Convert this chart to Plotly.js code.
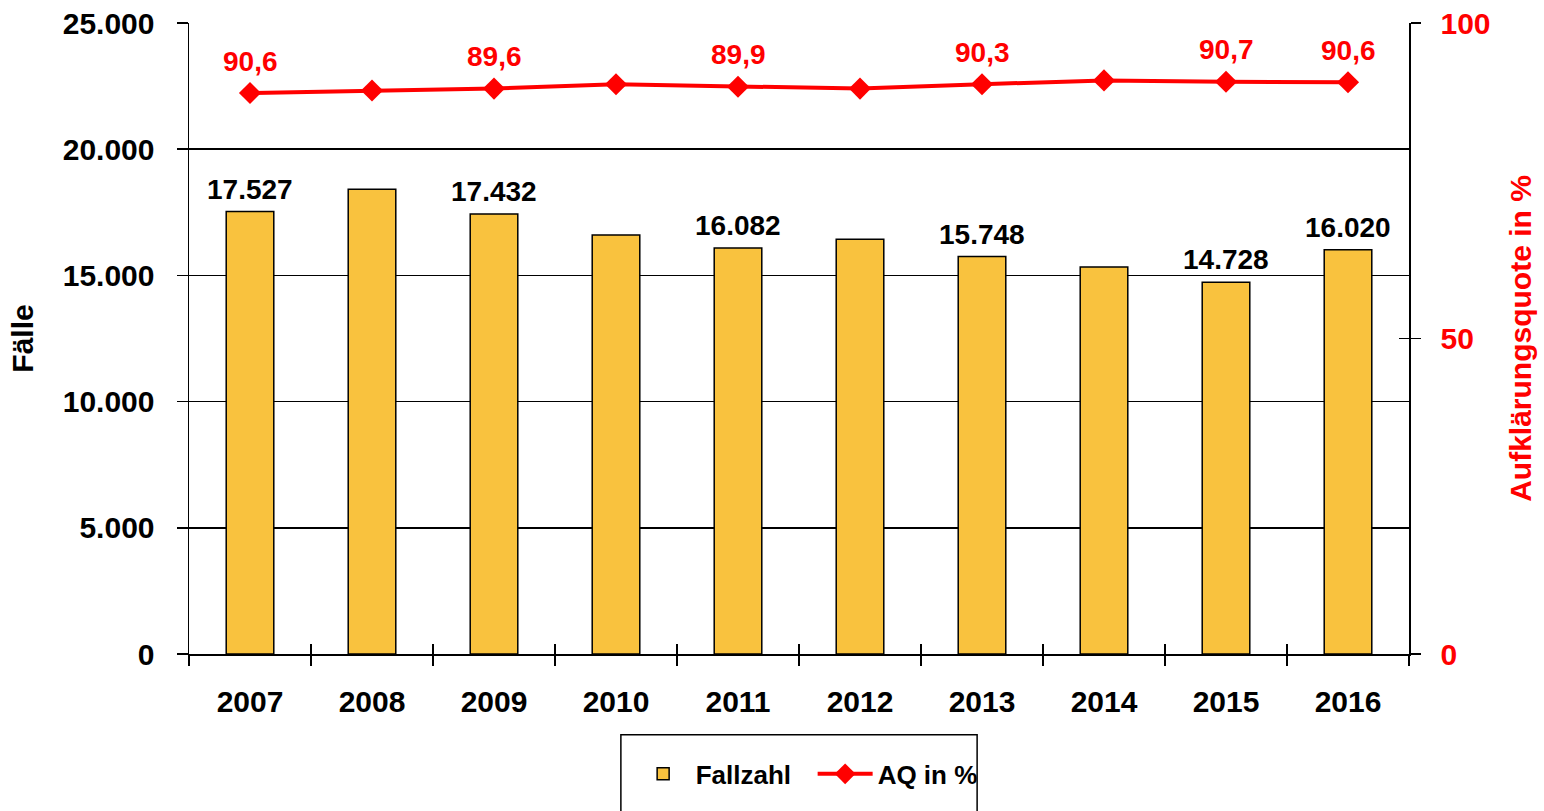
<!DOCTYPE html>
<html>
<head>
<meta charset="utf-8">
<script src="https://cdn.plot.ly/plotly-3.0.1.min.js"></script>
<style>
  body { margin: 0; background: #fff; }
  #chart { width: 1544px; height: 811px; }
</style>
</head>
<body>
<div id="chart"></div>
<script>
// years on the x axis
const years = ['2007', '2008', '2009', '2010', '2011', '2012', '2013', '2014', '2015', '2016'];
// number of cases (bars, left axis)
const fallzahl = [17527, 18410, 17432, 16600, 16082, 16430, 15748, 15330, 14728, 16020];
// labels printed above the bars (only some years are labelled)
const fallLabels = ['17.527', '', '17.432', '', '16.082', '', '15.748', '', '14.728', '16.020'];
// clearance rate in % (line, right axis)
const aq = [88.9, 89.3, 89.6, 90.3, 89.9, 89.6, 90.3, 90.9, 90.7, 90.6];
// labels printed above the line markers
const aqLabels = ['90,6', '', '89,6', '', '89,9', '', '90,3', '', '90,7', '90,6'];


//---------------------------------------------------------------------------------------------------------------//


const fontFamily = 'Liberation Sans, Arial, sans-serif';
const red = '#FF0000';

// bars for the case numbers
const barTrace = {
  type: 'bar',
  name: 'Fallzahl',
  x: years,
  y: fallzahl,
  width: 0.39,
  marker: { color: '#F9C23E', line: { color: '#000', width: 1.5 } },
  hoverinfo: 'x+y'
};

// line for the clearance rate
const lineTrace = {
  type: 'scatter',
  mode: 'lines+markers',
  name: 'AQ in %',
  x: years,
  y: aq,
  yaxis: 'y2',
  line: { color: red, width: 4 },
  marker: { symbol: 'diamond', size: 17, color: red },
  cliponaxis: false
};

// invisible helpers so the ticks cross the axis lines
const xTickHelper = {
  type: 'scatter', mode: 'none', x: years, y: fallzahl,
  xaxis: 'x2', yaxis: 'y', showlegend: false, hoverinfo: 'skip'
};
const yTickHelper = {
  type: 'scatter', mode: 'none', x: years, y: aq,
  xaxis: 'x', yaxis: 'y3', showlegend: false, hoverinfo: 'skip'
};


//---------------------------------------------------------------------------------------------------------------//


// value labels above the bars (black) and above the line points (red)
const annotations = [];

years.forEach((year, i) => {
  if (fallLabels[i] !== '') {
    annotations.push({
      x: i,
      y: fallzahl[i],
      xref: 'x',
      yref: 'y',
      yanchor: 'bottom',
      yshift: 5,
      text: fallLabels[i],
      showarrow: false,
      font: { family: fontFamily, size: 28, color: '#000', weight: 'bold' }
    });
  }
  if (aqLabels[i] !== '') {
    annotations.push({
      x: i,
      y: aq[i],
      xref: 'x',
      yref: 'y2',
      yanchor: 'middle',
      yshift: 32,
      text: aqLabels[i],
      showarrow: false,
      font: { family: fontFamily, size: 28, color: red, weight: 'bold' }
    });
  }
});


//---------------------------------------------------------------------------------------------------------------//


const layout = {
  width: 1544,
  height: 811,
  margin: { l: 189, r: 135, t: 23, b: 157 },
  paper_bgcolor: '#fff',
  plot_bgcolor: '#fff',
  separators: ',.',
  font: { family: fontFamily, color: '#000' },
  showlegend: true,
  legend: {
    orientation: 'h',
    x: 0.362,
    xanchor: 'left',
    y: -0.19,
    yanchor: 'middle',
    itemwidth: 55,
    entrywidth: 112,
    font: { family: fontFamily, size: 26, color: '#000', weight: 'bold' },
    bgcolor: 'rgba(0,0,0,0)'
  },
  xaxis: {
    type: 'category',
    range: [-0.5, 9.5],
    tickson: 'boundaries',
    ticks: 'outside',
    ticklen: 10,
    tickwidth: 1.5,
    tickcolor: '#000',
    showline: true,
    linecolor: '#000',
    linewidth: 1.5,
    showgrid: false,
    tickfont: { family: fontFamily, size: 30, color: '#000', weight: 'bold' },
    ticklabelstandoff: 20
  },
  xaxis2: {
    type: 'category',
    overlaying: 'x',
    anchor: 'y',
    side: 'bottom',
    range: [-0.5, 9.5],
    tickson: 'boundaries',
    ticks: 'inside',
    ticklen: 10,
    tickwidth: 1.5,
    tickcolor: '#000',
    showticklabels: false,
    showgrid: false,
    showline: false,
    zeroline: false
  },
  yaxis: {
    range: [0, 25000],
    dtick: 5000,
    tickformat: ',.0f',
    showgrid: true,
    gridcolor: '#000',
    gridwidth: 1.5,
    zeroline: false,
    showline: true,
    linecolor: '#000',
    linewidth: 1.5,
    ticks: 'outside',
    ticklen: 11,
    tickwidth: 1.5,
    tickcolor: '#000',
    tickfont: { family: fontFamily, size: 30, color: '#000', weight: 'bold' },
    ticklabelstandoff: 16,
    title: {
      text: 'Fälle',
      standoff: 20,
      font: { family: fontFamily, size: 30, color: '#000', weight: 'bold' }
    }
  },
  yaxis2: {
    overlaying: 'y',
    side: 'right',
    range: [0, 100],
    dtick: 50,
    showgrid: false,
    zeroline: false,
    showline: true,
    linecolor: '#000',
    linewidth: 1.5,
    ticks: 'outside',
    ticklen: 10,
    tickwidth: 1.5,
    tickcolor: '#000',
    tickfont: { family: fontFamily, size: 30, color: red, weight: 'bold' },
    ticklabelstandoff: 14,
    title: {
      text: 'Aufklärungsquote in %',
      standoff: 20,
      font: { family: fontFamily, size: 30, color: red, weight: 'bold' }
    }
  },
  yaxis3: {
    overlaying: 'y',
    side: 'right',
    range: [0, 100],
    dtick: 50,
    ticks: 'inside',
    ticklen: 10,
    tickwidth: 1.5,
    tickcolor: '#000',
    showticklabels: false,
    showgrid: false,
    showline: false,
    zeroline: false
  },
  annotations: annotations,
  // frame round the legend, running past the bottom edge like in the original
  shapes: [{
    type: 'rect',
    xref: 'paper',
    yref: 'paper',
    x0: 0.354,
    x1: 0.646,
    y0: -0.128,
    y1: -0.35,
    line: { color: '#000', width: 1.5 },
    fillcolor: 'rgba(0,0,0,0)'
  }]
};

Plotly.newPlot('chart', [barTrace, lineTrace, xTickHelper, yTickHelper], layout, { displayModeBar: false, staticPlot: true });
</script>
</body>
</html>
